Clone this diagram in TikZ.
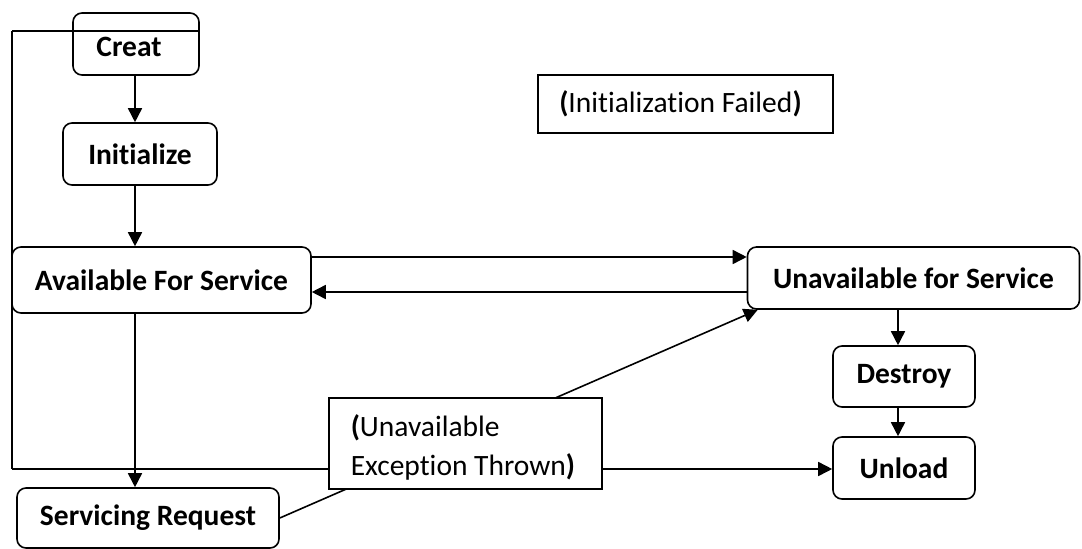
\documentclass[tikz,border=0pt]{standalone}
\usepackage{fontspec}
\setmainfont{Carlito}[Ligatures={NoCommon}]
\usetikzlibrary{arrows.meta,backgrounds,calc}

\tikzset{
  every picture/.style={x=1pt,y=-1pt},
  state/.style={draw,line width=1.6pt,rounded corners=9pt,fill=white,
    inner sep=0pt,font=\fontsize{29.5}{34}\selectfont\bfseries},
  note/.style={draw,line width=1.6pt,fill=white,inner sep=0pt,
    font=\fontsize{29.5}{39}\selectfont},
  link/.style={line width=1.6pt,-{Triangle[length=14pt,width=14pt]}},
  plain/.style={line width=1.6pt}
}

\begin{document}
\begin{tikzpicture}
\useasboundingbox (0,0) rectangle (1082,549);

% states
\node[state,minimum width=126pt,minimum height=62pt] (creat) at (136,44)
  {\raisebox{-3pt}[\height][\depth]{Creat}\kern14pt};
\node[state,minimum width=154pt,minimum height=62pt] (init) at (140,154) {Initialize};
\node[state,minimum width=299pt,minimum height=66pt] (avail) at (161.5,280) {Available For Service};
\node[state,minimum width=262pt,minimum height=60pt] (serv) at (148,518) {Servicing Request};
\node[state,minimum width=332pt,minimum height=62pt] (unavail) at (913.5,278) {Unavailable for Service};
\node[state,minimum width=142pt,minimum height=61pt] (destroy) at (904,376.5) {Destroy};
\node[state,minimum width=142pt,minimum height=62pt] (unload) at (904,468) {Unload};

% notes
\node[note,minimum width=295pt,minimum height=58pt] (failed) at (685.5,104)
  {\textbf{(}Initialization Failed\textbf{)}\kern10pt};
\node[note,minimum width=273pt,minimum height=91pt] (exc) at (465.5,443.5) {};
\node[note,draw=none,fill=none,anchor=north west,align=left] (exctext) at (350,414)
  {\textbf{(}Unavailable\\Exception Thrown\textbf{)}};

% loop corners
\coordinate (loopTop) at (12,31);
\coordinate (loopBot) at (12,469);
\coordinate (creatTap) at (creat.east |- loopTop);

\begin{pgfonlayer}{background}
  \draw[plain] (loopTop) -- (loopBot);
  \draw[link] (loopBot) -- (loopBot -| unload.west);
  \draw[link] (serv.east) -- ($(unavail.south west)+(11,0)$);
\end{pgfonlayer}

% return line crossing the top of the first state
\draw[plain] (creatTap) -- (loopTop);

% main flow
\draw[link] (creat.south -| 135,0) -- (init.north -| 135,0);
\draw[link] (init.south -| 135,0) -- (avail.north -| 135,0);
\draw[link] (avail.south -| 135,0) -- (serv.north -| 135,0);
\draw[link] (avail.east |- 0,257) -- (unavail.west |- 0,257);
\draw[link] (unavail.west |- 0,292) -- (avail.east |- 0,292);
\draw[link] (unavail.south -| 898,0) -- (destroy.north -| 898,0);
\draw[link] (destroy.south -| 898,0) -- (unload.north -| 898,0);
\end{tikzpicture}
\end{document}
